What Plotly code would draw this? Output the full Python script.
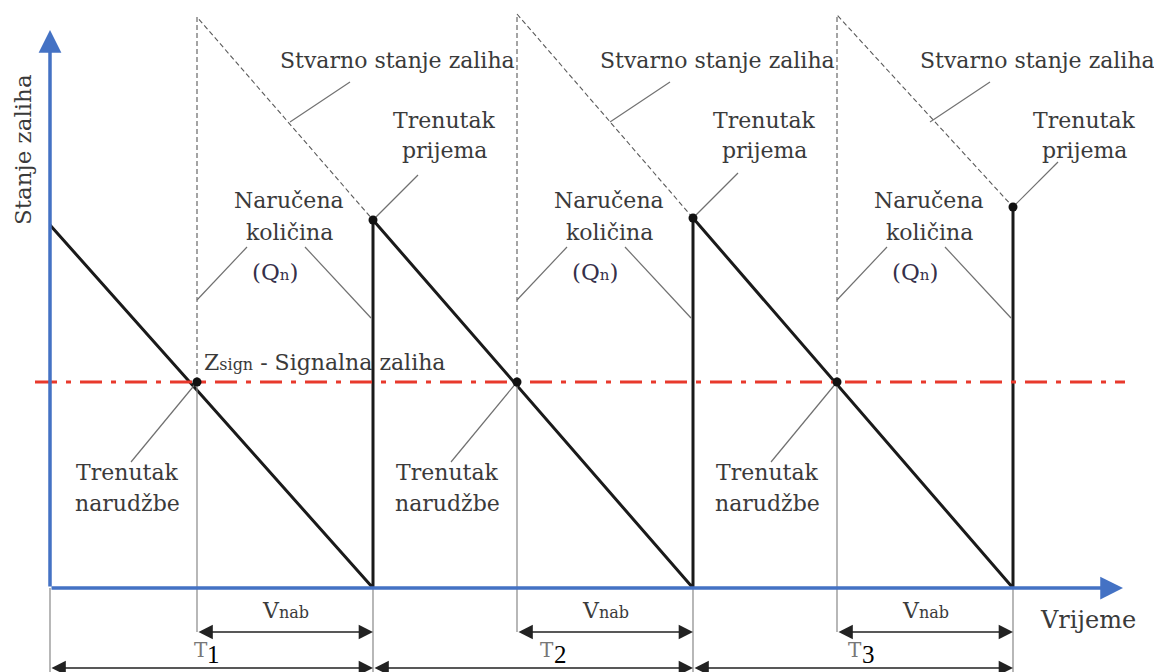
import plotly.graph_objects as go

# ---------------- data (time units on x, stock level on y) ----------------
start_level = 363
receipt_t = [373, 693, 1013]          # moments of receipt
order_t = [197, 517, 837]             # moments of ordering
receipt_level = [368, 370, 381]       # stock right after receipt
ordered_peak = [571, 574, 573]        # ordered quantity level (dashed top)
signal_level = 206                    # Zsign
cycle_start = [50, 373, 693]
cycle_names = ["1", "2", "3"]
origin_t = 50

FONT = "DejaVu Serif"
TXT = "#3a3a3a"
BLUE = "#4472C4"
FS = 22

fig = go.Figure()

# main sawtooth (actual stock level)
sx, sy = [origin_t], [start_level]
for t, lvl in zip(receipt_t, receipt_level):
    sx += [t, t]
    sy += [0, lvl]
fig.add_trace(go.Scatter(x=sx, y=sy, mode="lines",
                         line=dict(color="#1a1a1a", width=3), hoverinfo="skip"))

# dashed "stvarno stanje" lines
dx, dy = [], []
for o, p, r, rl in zip(order_t, ordered_peak, receipt_t, receipt_level):
    dx += [o, o, r, None]
    dy += [signal_level, p, rl, None]
fig.add_trace(go.Scatter(x=dx, y=dy, mode="lines",
                         line=dict(color="#5a5a5a", width=1.1, dash="5px,3px"), hoverinfo="skip"))

# thin extension lines
ex, ey = [], []
for o in order_t:
    ex += [o, o, None]
    ey += [signal_level, -44, None]
for t in [origin_t] + receipt_t:
    ex += [t, t, None]
    ey += [0, -90, None]
fig.add_trace(go.Scatter(x=ex, y=ey, mode="lines",
                         line=dict(color="#888888", width=1.2), hoverinfo="skip"))

# signal level line
fig.add_trace(go.Scatter(x=[35, 1125], y=[signal_level, signal_level], mode="lines",
                         line=dict(color="#e8392c", width=3, dash="22px,9px,5px,9px"),
                         hoverinfo="skip"))

# leader lines
lx, ly = [], []
for o, r, rl in zip(order_t, receipt_t, receipt_level):
    # Stvarno stanje zaliha
    lx += [o + 93, o + 153, None]
    ly += [466, 506, None]
    # Trenutak prijema
    lx += [r, r + 45, None]
    ly += [rl, rl + 45, None]
    # Narucena kolicina left / right
    lx += [o, o + 50, None]
    ly += [288, 341, None]
    lx += [o + 108, r - 2, None]
    ly += [341, 270, None]
    # Trenutak narudzbe
    lx += [o, o - 66, None]
    ly += [signal_level, 126, None]
fig.add_trace(go.Scatter(x=lx, y=ly, mode="lines",
                         line=dict(color="#707070", width=1.2), hoverinfo="skip"))

# dots
fig.add_trace(go.Scatter(x=order_t + receipt_t,
                         y=[signal_level] * 3 + receipt_level, mode="markers",
                         marker=dict(color="#111111", size=9), hoverinfo="skip"))

ann = []
# axes arrows
ann.append(dict(x=origin_t, y=558, ax=origin_t, ay=0, xref="x", yref="y", axref="x", ayref="y",
                text="", showarrow=True, arrowhead=2, arrowsize=1.3, arrowwidth=3.5,
                arrowcolor=BLUE, standoff=0))
ann.append(dict(x=1123, y=0, ax=origin_t, ay=0, xref="x", yref="y", axref="x", ayref="y",
                text="", showarrow=True, arrowhead=2, arrowsize=1.3, arrowwidth=3.5,
                arrowcolor=BLUE, standoff=0))

# dimension arrows
for o, r in zip(order_t, receipt_t):
    ann.append(dict(x=r, y=-44, ax=o, ay=-44, xref="x", yref="y", axref="x", ayref="y",
                    text="", showarrow=True, arrowhead=2, arrowside="end+start",
                    arrowsize=2.2, arrowwidth=1.3, arrowcolor="#222222", standoff=0, startstandoff=0))
    ann.append(dict(x=(o + r) / 2, y=-22, text="V<span style='font-size:16px'>nab</span>",
                    showarrow=False, font=dict(family=FONT, size=22, color=TXT)))
t_off = [-5, 20, 8]
for c, r, name, off in zip(cycle_start, receipt_t, cycle_names, t_off):
    ann.append(dict(x=r, y=-80, ax=c, ay=-80, xref="x", yref="y", axref="x", ayref="y",
                    text="", showarrow=True, arrowhead=2, arrowside="end+start",
                    arrowsize=2.2, arrowwidth=1.3, arrowcolor="#222222", standoff=0, startstandoff=0))
    mid = (c + r) / 2 + off
    ann.append(dict(x=mid - 6, y=-62, text="T", showarrow=False,
                    font=dict(family=FONT, size=20, color="#777777")))
    ann.append(dict(x=mid + 7, y=-66, text=name, showarrow=False,
                    font=dict(family="Liberation Serif", size=25, color="#000000")))

# text labels
for o, r in zip(order_t, receipt_t):
    ann.append(dict(x=o + 200, y=528, text="Stvarno stanje zaliha", showarrow=False,
                    font=dict(family=FONT, size=FS, color=TXT)))
    ann.append(dict(x=r + 71, y=468, text="Trenutak", showarrow=False,
                    font=dict(family=FONT, size=FS, color=TXT)))
    ann.append(dict(x=r + 71, y=438, text="prijema", showarrow=False,
                    font=dict(family=FONT, size=FS, color=TXT)))
    ann.append(dict(x=o + 92, y=388, text="Naručena", showarrow=False,
                    font=dict(family=FONT, size=FS, color=TXT)))
    ann.append(dict(x=o + 92, y=356, text="količina", showarrow=False,
                    font=dict(family=FONT, size=FS, color=TXT)))
    ann.append(dict(x=o + 78, y=316, text="(Q<span style='font-size:15px'>n</span>)",
                    showarrow=False, font=dict(family=FONT, size=23, color="#35304a")))
    ann.append(dict(x=o - 70, y=116, text="Trenutak", showarrow=False,
                    font=dict(family=FONT, size=FS, color=TXT)))
    ann.append(dict(x=o - 70, y=85, text="narudžbe", showarrow=False,
                    font=dict(family=FONT, size=FS, color=TXT)))

ann.append(dict(x=order_t[0] + 5, y=signal_level + 20, xanchor="left",
                text="Z<span style='font-size:16px'>sign</span> - Signalna zaliha",
                showarrow=False, font=dict(family=FONT, size=FS, color=TXT)))
ann.append(dict(x=1088, y=-32, text="Vrijeme", showarrow=False,
                font=dict(family=FONT, size=24, color=TXT)))
ann.append(dict(x=23, y=438, text="Stanje zaliha", textangle=-90, showarrow=False,
                font=dict(family=FONT, size=23, color=TXT)))

# page has an 8px body margin: size the figure so it fits the window exactly
fig.update_layout(
    width=1154, height=664,
    margin=dict(l=0, r=0, t=0, b=0),
    paper_bgcolor="white", plot_bgcolor="white",
    showlegend=False,
    xaxis=dict(range=[8, 1162], visible=False, fixedrange=True),
    yaxis=dict(range=[-84, 580], visible=False, fixedrange=True),
    annotations=ann,
)

fig.write_html("out.html")
